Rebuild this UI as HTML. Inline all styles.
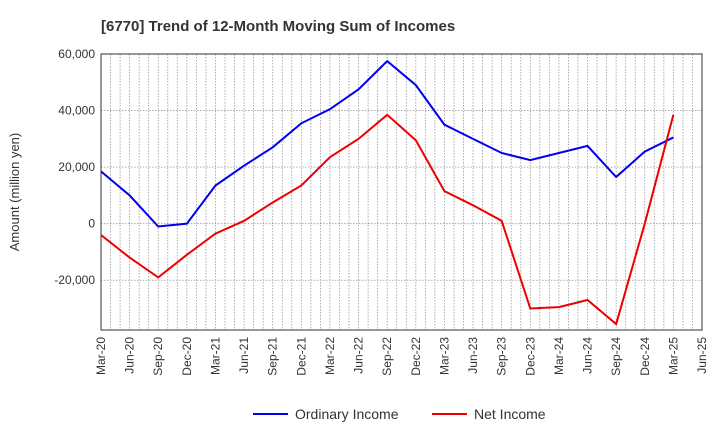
<!DOCTYPE html>
<html><head><meta charset="utf-8"><style>
body{margin:0;background:#fff;font-family:"Liberation Sans",sans-serif}
</style></head><body>
<svg id="c" width="720" height="440" xmlns="http://www.w3.org/2000/svg"></svg>
<script>
const categories=["Mar-20","Jun-20","Sep-20","Dec-20","Mar-21","Jun-21","Sep-21","Dec-21","Mar-22","Jun-22","Sep-22","Dec-22","Mar-23","Jun-23","Sep-23","Dec-23","Mar-24","Jun-24","Sep-24","Dec-24","Mar-25","Jun-25"];
const ordinaryIncome=[18500,10000,-1000,0,13500,20500,27000,35500,40500,47500,57500,49000,35000,30000,25000,22500,25000,27500,16500,25500,30500];
const netIncome=[-4000,-12000,-19000,-11000,-3500,1000,7500,13500,23500,30000,38500,29500,11500,6500,1000,-30000,-29500,-27000,-35500,0,38500];
const yTicks=[60000,40000,20000,0,-20000];
const yTickLabels=["60,000","40,000","20,000","0","-20,000"];
const svg=document.getElementById('c');const NS="http://www.w3.org/2000/svg";
const L=101,R=702,T=54,B=330,yMax=60000,yMin=-37600;
const x=i=>L+i*(R-L)/(categories.length-1);
const y=v=>T+(yMax-v)*(B-T)/(yMax-yMin);
function el(t,a,p){const e=document.createElementNS(NS,t);for(const k in a)e.setAttribute(k,a[k]);(p||svg).appendChild(e);return e;}
const title=el('text',{x:101,y:31,'font-size':15,'font-weight':'bold',fill:'#333'});title.textContent="[6770]  Trend of 12-Month Moving Sum of Incomes";


const grid=el('g',{});


for(let m=0;m<=(categories.length-1)*3;m++){const gx=L+m*(R-L)/((categories.length-1)*3);el('line',{x1:gx,x2:gx,y1:T,y2:B,stroke:'#999','stroke-width':0.8,'stroke-dasharray':'1.5,1.5'},grid);}
yTicks.forEach((v,i)=>{el('line',{x1:L,x2:R,y1:y(v),y2:y(v),stroke:'#999','stroke-width':0.8,'stroke-dasharray':'1.5,1.5'},grid);
const t=el('text',{x:L-6,y:y(v)+4,'text-anchor':'end','font-size':12,fill:'#333'});t.textContent=yTickLabels[i];

});
const frame=el('rect',{x:L,y:T,width:R-L,height:B-T,fill:'none',stroke:'#333','stroke-width':1});


categories.forEach((c,i)=>{const t=el('text',{transform:`translate(${x(i)+4},${B+7}) rotate(-90)`,'text-anchor':'end','font-size':12,fill:'#333'});t.textContent=c;

});
const yt=el('text',{transform:'translate(19,192) rotate(-90)','text-anchor':'middle','font-size':13,fill:'#333'});yt.textContent="Amount (million yen)";


function line(d,col,name){const p=el('polyline',{points:d.map((v,i)=>x(i)+','+y(v)).join(' '),fill:'none',stroke:col,'stroke-width':2});

}
line(ordinaryIncome,'#0000ee','ordinary-income-line');
line(netIncome,'#ee0000','net-income-line');
function leg(x0,col,txt,name){const g=el('g',{});


el('line',{x1:x0,x2:x0+35,y1:414,y2:414,stroke:col,'stroke-width':2},g);
const t=el('text',{x:x0+42,y:419,'font-size':14,fill:'#333'},g);t.textContent=txt;}
leg(253,'#0000ee','Ordinary Income','legend-ordinary-income');
leg(432,'#ee0000','Net Income','legend-net-income');
</script>
</body></html>
